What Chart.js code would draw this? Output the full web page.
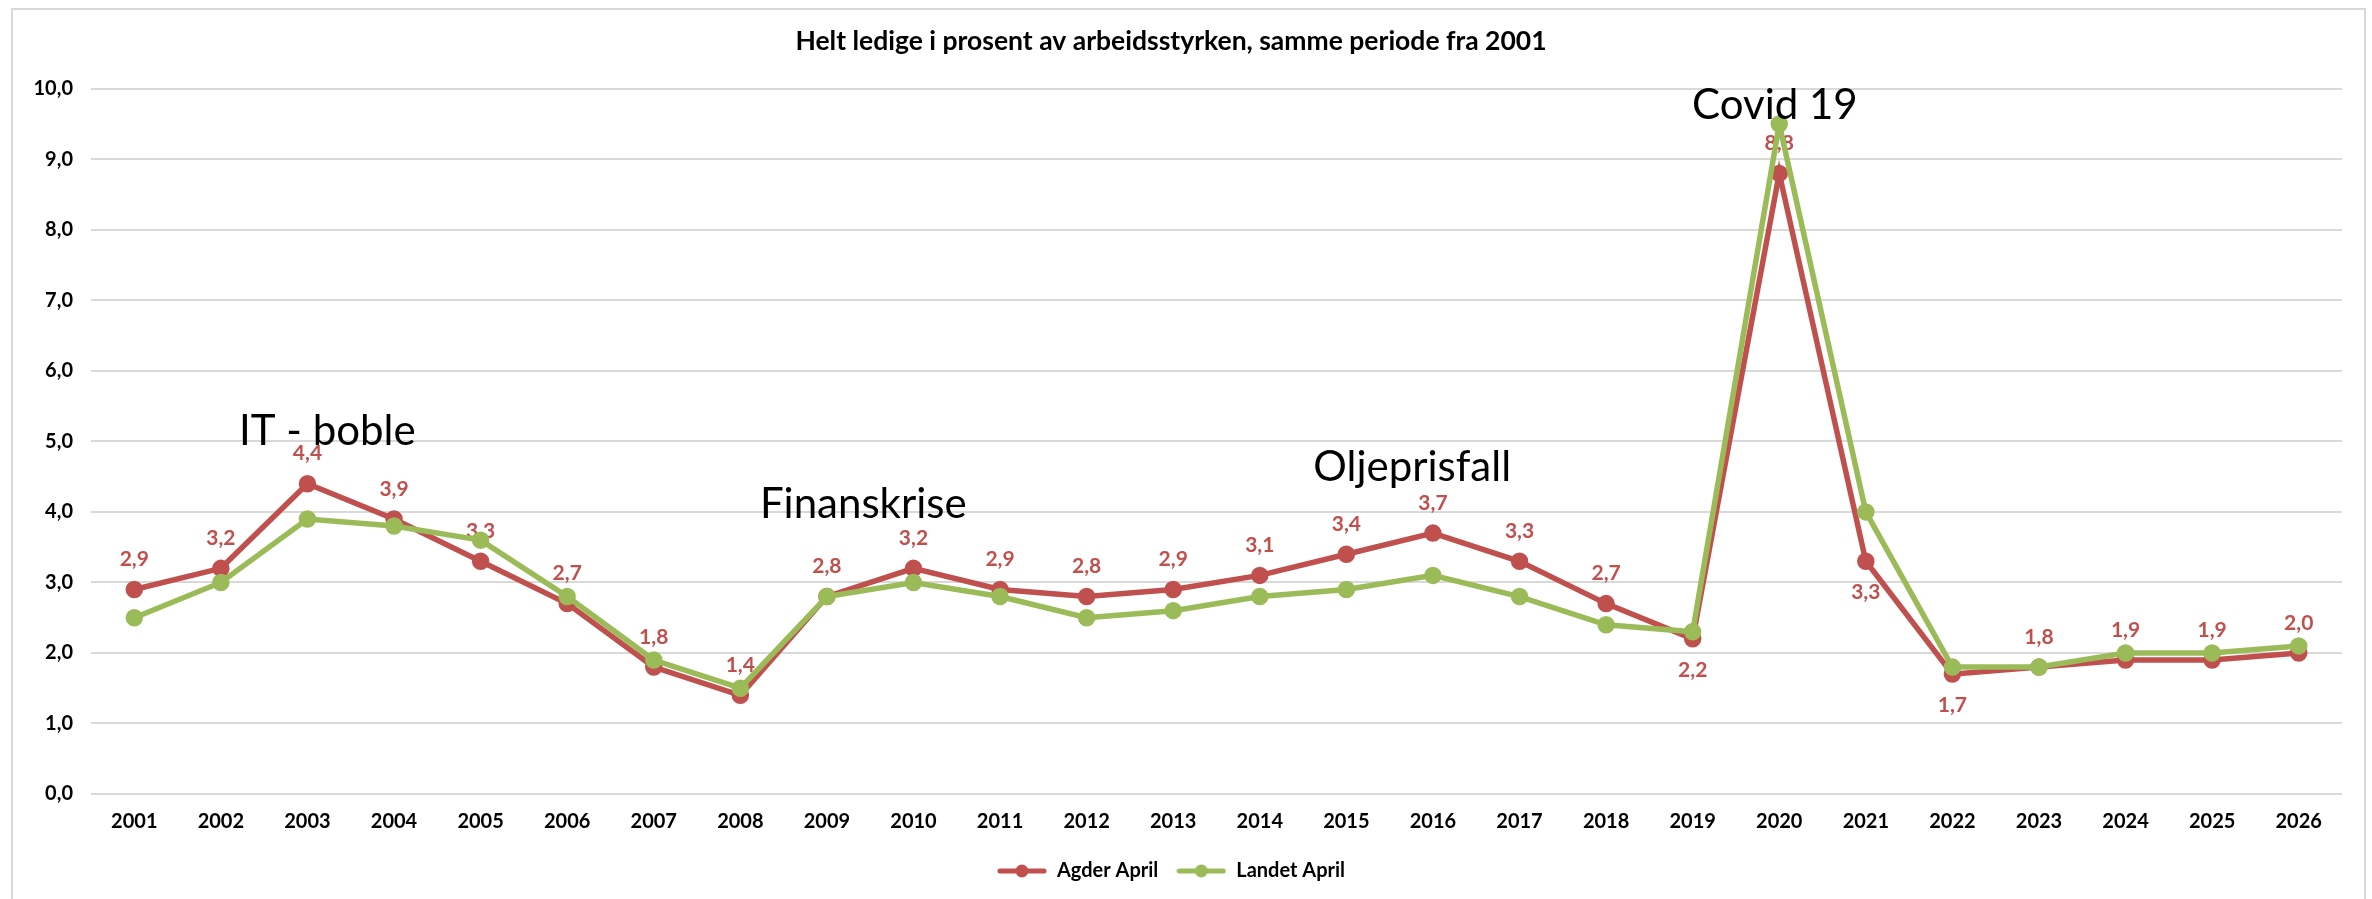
<!DOCTYPE html>
<html lang="no">
<head>
<meta charset="utf-8">
<title>Helt ledige i prosent av arbeidsstyrken</title>
<script src="https://cdn.jsdelivr.net/npm/chart.js@4.4.1/dist/chart.umd.min.js"></script>
<style>
    html, body { margin: 0; padding: 0; background: #fff; }
    #wrap { position: relative; width: 2372px; height: 899px; overflow: hidden; }
    #frame {
        position: absolute; left: 11px; top: 8px; width: 2355px; height: 910px;
        border: 2px solid #d9d9d9; box-sizing: border-box; pointer-events: none;
    }
    canvas { display: block; }
</style>
</head>
<body>
<div id="wrap">
    <canvas id="ledighetChart" width="2372" height="899"></canvas>
    <div id="frame"></div>
</div>
<script>
// Chart data
const years = ['2001', '2002', '2003', '2004', '2005', '2006', '2007', '2008', '2009', '2010', '2011', '2012', '2013',
    '2014', '2015', '2016', '2017', '2018', '2019', '2020', '2021', '2022', '2023', '2024', '2025', '2026'];
const agderApril = [2.9, 3.2, 4.4, 3.9, 3.3, 2.7, 1.8, 1.4, 2.8, 3.2, 2.9, 2.8, 2.9,
    3.1, 3.4, 3.7, 3.3, 2.7, 2.2, 8.8, 3.3, 1.7, 1.8, 1.9, 1.9, 2.0];
const landetApril = [2.5, 3.0, 3.9, 3.8, 3.6, 2.8, 1.9, 1.5, 2.8, 3.0, 2.8, 2.5, 2.6,
    2.8, 2.9, 3.1, 2.8, 2.4, 2.3, 9.5, 4.0, 1.8, 1.8, 2.0, 2.0, 2.1];
const yMin = 0;
const yMax = 10;

// Years where the Agder value label sits under the point
const labelsBelow = ['2019', '2021', '2022'];

// Event notes, anchored in data space (category index, value at baseline)
const events = [
    { text: 'IT - boble', x: 2.23, y: 4.95 },
    { text: 'Finanskrise', x: 8.42, y: 3.91 },
    { text: 'Oljeprisfall', x: 14.76, y: 4.44 },
    { text: 'Covid 19', x: 18.95, y: 9.57 }
];

const RED = '#c0504d';
const GREEN = '#9bbb59';
const FONT = 'Lato, "Open Sans", sans-serif';

const ChartModule = (function() {

    function formatNumber(v) {
        return Number(v).toFixed(1).replace('.', ',');
    }

    /**
     * Small line-with-dot marker used in the legend
     */
    function legendMarker(color) {
        const c = document.createElement('canvas');
        c.width = 50;
        c.height = 14;
        const ctx = c.getContext('2d');
        ctx.strokeStyle = color;
        ctx.lineWidth = 5;
        ctx.lineCap = 'round';
        ctx.beginPath();
        ctx.moveTo(3, 7);
        ctx.lineTo(47, 7);
        ctx.stroke();
        ctx.fillStyle = color;
        ctx.beginPath();
        ctx.arc(25, 7, 6.5, 0, Math.PI * 2);
        ctx.fill();
        return c;
    }

    // Value labels for Agder, drawn right after that line (under the green one)
    const valueLabels = {
        id: 'valueLabels',
        afterDatasetDraw(chart, args) {
            if (args.index !== 0) return;
            const ctx = chart.ctx;
            ctx.save();
            ctx.font = 'bold 21px ' + FONT;
            ctx.fillStyle = RED;
            ctx.textAlign = 'center';
            ctx.textBaseline = 'middle';
            args.meta.data.forEach((pt, i) => {
                const below = labelsBelow.includes(years[i]);
                ctx.fillText(formatNumber(agderApril[i]), pt.x, pt.y + (below ? 31 : -30));
            });
            ctx.restore();
        }
    };

    // Event notes
    const eventNotes = {
        id: 'eventNotes',
        afterDatasetsDraw(chart) {
            const ctx = chart.ctx;
            const xs = chart.scales.x;
            const ys = chart.scales.y;
            ctx.save();
            ctx.font = '42px ' + FONT;
            ctx.fillStyle = '#000';
            ctx.textAlign = 'center';
            ctx.textBaseline = 'alphabetic';
            events.forEach(ev => {
                ctx.fillText(ev.text, xs.getPixelForValue(ev.x), ys.getPixelForValue(ev.y));
            });
            ctx.restore();
        }
    };

    function init() {
        const canvas = document.getElementById('ledighetChart');
        if (!canvas) return;

        Chart.defaults.font.family = FONT;
        Chart.defaults.color = '#000';

        const markers = [legendMarker(RED), legendMarker(GREEN)];

        new Chart(canvas, {
            type: 'line',
            data: {
                labels: years,
                datasets: [{
                    label: 'Agder April',
                    data: agderApril,
                    borderColor: RED,
                    backgroundColor: RED,
                    borderWidth: 5.5,
                    pointRadius: 6,
                    pointHoverRadius: 6,
                    tension: 0,
                    order: 1
                }, {
                    label: 'Landet April',
                    data: landetApril,
                    borderColor: GREEN,
                    backgroundColor: GREEN,
                    borderWidth: 5.5,
                    pointRadius: 6,
                    pointHoverRadius: 6,
                    tension: 0,
                    order: 0
                }]
            },
            options: {
                responsive: false,
                devicePixelRatio: 1,
                animation: false,
                layout: {
                    padding: { left: 0, right: 30, top: 0, bottom: 8 }
                },
                plugins: {
                    title: {
                        display: true,
                        text: 'Helt ledige i prosent av arbeidsstyrken, samme periode fra 2001',
                        color: '#000',
                        font: { size: 26.5, weight: 'bold' },
                        padding: { top: 26, bottom: 31 }
                    },
                    legend: {
                        position: 'bottom',
                        labels: {
                            usePointStyle: true,
                            pointStyleWidth: 50,
                            padding: 18,
                            color: '#000',
                            font: { size: 20, weight: 'bold' },
                            sort: (a, b) => a.datasetIndex - b.datasetIndex,
                            generateLabels(chart) {
                                const items = Chart.defaults.plugins.legend.labels.generateLabels(chart);
                                items.forEach(item => {
                                    item.pointStyle = markers[item.datasetIndex];
                                });
                                return items;
                            }
                        }
                    },
                    tooltip: { enabled: false }
                },
                scales: {
                    x: {
                        offset: true,
                        grid: { display: false },
                        border: { display: false },
                        ticks: {
                            padding: 8,
                            maxRotation: 0,
                            autoSkip: false,
                            font: { size: 20, weight: 'bold' }
                        },
                        afterFit(scale) { scale.height = 49; }
                    },
                    y: {
                        min: yMin,
                        max: yMax,
                        grid: { color: '#d9d9d9', lineWidth: 2, drawTicks: false },
                        border: { display: false },
                        ticks: {
                            stepSize: 1,
                            padding: 18,
                            font: { size: 20, weight: 'bold' },
                            callback: v => formatNumber(v)
                        },
                        afterFit(scale) { scale.width = 91; }
                    }
                }
            },
            plugins: [valueLabels, eventNotes]
        });
    }

    return { init: init };
})();

ChartModule.init();
</script>
</body>
</html>
